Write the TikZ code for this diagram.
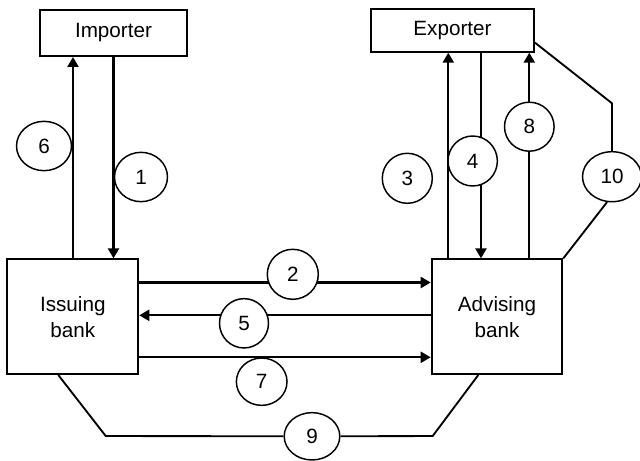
\documentclass[tikz,border=0pt]{standalone}
\usepackage{fontspec}
\setmainfont{Liberation Sans}
\usetikzlibrary{arrows.meta,shapes.geometric,calc,backgrounds}

\tikzset{
  party/.style={draw, line width=1.45pt, rectangle, inner sep=0pt,
    font=\fontsize{15.5}{19.5}\selectfont, align=center},
  step num/.style={draw, line width=1.1pt, ellipse, fill=white, inner sep=0pt,
    font=\fontsize{15.5}{18}\selectfont},
  flow/.style={line width=1.65pt, -{Triangle[length=7.5pt,width=8.25pt]}},
  link/.style={line width=1.4pt}
}

\begin{document}
\begin{tikzpicture}[x=0.75pt,y=-0.75pt]
  \useasboundingbox (0,0) rectangle (640,461);

  % parties
  \node[party, minimum width=110.25pt, minimum height=34.5pt] (importer) at (113.5,33) {Importer};
  \node[party, minimum width=122.25pt, minimum height=31.8pt] (exporter) at (452.5,30.5) {Exporter};
  \node[party, minimum width=98.25pt, minimum height=86pt] (issuing) at (72.8,316.7) {Issuing\\bank};
  \node[party, minimum width=98pt, minimum height=86pt] (advising) at (497,316.7) {Advising\\bank};

  % numbered steps
  \node[step num, minimum width=41.25pt, minimum height=37pt] (n6) at (44,146) {6};
  \node[step num, minimum width=39.75pt, minimum height=37pt] (n1) at (141,177) {1};
  \node[step num, minimum width=38.25pt, minimum height=37.5pt] (n2) at (292.8,274.3) {2};
  \node[step num, minimum width=37.5pt, minimum height=37.5pt] (n3) at (407.3,178.3) {3};
  \node[step num, minimum width=37pt, minimum height=37.5pt] (n4) at (472.7,161) {4};
  \node[step num, minimum width=36.75pt, minimum height=37pt] (n5) at (244,323.3) {5};
  \node[step num, minimum width=38pt, minimum height=35.5pt] (n7) at (261.7,381.7) {7};
  \node[step num, minimum width=37.2pt, minimum height=36.75pt] (n8) at (529.3,126.7) {8};
  \node[step num, minimum width=41.7pt, minimum height=35.5pt] (n9) at (312,436.3) {9};
  \node[step num, minimum width=44.25pt, minimum height=37.5pt] (n10) at (612,176.7) {10};

  % line positions
  \coordinate (x6) at (73,0);
  \coordinate (x3) at (448.3,0);
  \coordinate (x4) at (481,0);
  \coordinate (x8) at (529.3,0);
  \coordinate (y2) at (0,282.5);
  \coordinate (y5) at (0,315.3);
  \coordinate (y7) at (0,357.3);
  \coordinate (x9a) at (58.3,0);
  \coordinate (x9b) at (478.3,0);
  \coordinate (c9a) at (105.7,436);
  \coordinate (c9b) at (432.7,436);
  \coordinate (c10) at (612,103.3);

  \begin{pgfonlayer}{background}
    \draw[flow] (x6 |- issuing.north) -- (x6 |- importer.south);
    \draw[flow] (importer.south) -- (importer.south |- issuing.north);
    \draw[flow] (y2 -| issuing.east) -- (y2 -| advising.west);
    \draw[flow] (y5 -| advising.west) -- (y5 -| issuing.east);
    \draw[flow] (y7 -| issuing.east) -- (y7 -| advising.west);
    \draw[flow] (x3 |- advising.north) -- (x3 |- exporter.south);
    \draw[flow] (x4 |- exporter.south) -- (x4 |- advising.north);
    \draw[flow] (x8 |- advising.north) -- (x8 |- exporter.south);
    \draw[link] ($(exporter.south east)+(0,-10)$) -- (c10) -- (n10.north);
    \draw[link] (n10.-101) -- (advising.north east);
    \draw[link] (x9a |- issuing.south) -- (c9a) -- (n9.west);
    \draw[link] (n9.east) -- (c9b) -- (x9b |- advising.south);
  \end{pgfonlayer}
\end{tikzpicture}
\end{document}
